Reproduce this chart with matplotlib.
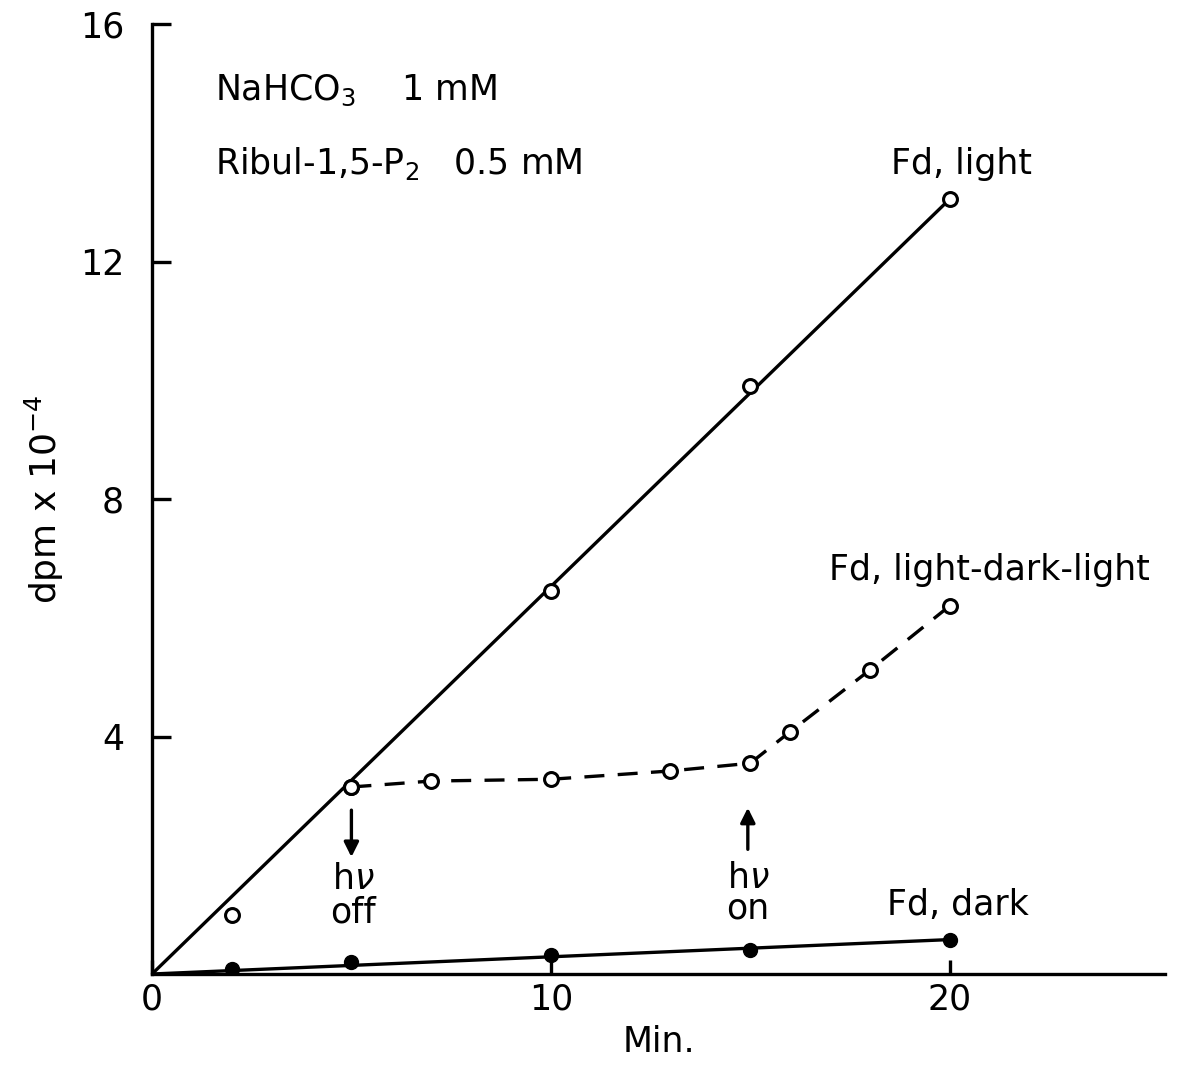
# Zeitverlauf der CO2-Fixierung (dpm) mit Ferredoxin: hell, dunkel, hell-dunkel-hell
import numpy as np
import matplotlib.pyplot as plt

# Daten (Minuten, dpm x 10^-4)
t_licht = [2, 5, 10, 15, 20]
dpm_licht = [1.0, 3.15, 6.45, 9.9, 13.05]

t_wechsel = [5, 7, 10, 13, 15, 16, 18, 20]
dpm_wechsel = [3.15, 3.25, 3.28, 3.42, 3.55, 4.08, 5.12, 6.2]

t_dunkel = [2, 5, 10, 15, 20]
dpm_dunkel = [0.08, 0.2, 0.32, 0.4, 0.58]

# Ausgleichsgeraden (Anfang, Ende)
t_fit = [0, 20]
fit_licht = [0, 13.05]
fit_dunkel = [0, 0.58]

xticks = [0, 10, 20]
yticks = [4, 8, 12, 16]

plt.rcParams['font.family'] = 'DejaVu Sans'
fig = plt.figure(figsize=(11.82, 10.68), dpi=100)
achsen = fig.add_axes([0.1286, 0.088, 0.857, 0.8895])

# Geraden und Messpunkte
achsen.plot(t_fit, fit_licht, 'k-', lw=2.4)
achsen.plot(t_licht, dpm_licht, 'o', ms=10, mfc='white', mec='k', mew=2.2)
achsen.plot(t_wechsel, dpm_wechsel, 'k--', lw=2.4, dashes=(6, 4),
            marker='o', ms=10, mfc='white', mec='k', mew=2.2)
achsen.plot(t_fit, fit_dunkel, 'k-', lw=2.4)
achsen.plot(t_dunkel, dpm_dunkel, 'o', ms=10, mfc='k', mec='k')

# Achsen wie im Original: nur links und unten
achsen.spines['top'].set_color('none')
achsen.spines['right'].set_color('none')
achsen.spines['left'].set_linewidth(2.4)
achsen.spines['bottom'].set_linewidth(2.4)
achsen.set_xlim(0, 25.4)
achsen.set_ylim(0, 16)
achsen.set_xticks(xticks)
achsen.set_yticks(yticks)
achsen.tick_params(axis='both', direction='in', width=2.4, labelsize=25)
achsen.tick_params(axis='y', length=14, pad=20)
achsen.tick_params(axis='x', length=10, pad=6)
achsen.set_xticklabels(['0', '10', '20'])

achsen.set_xlabel('Min.', fontsize=25, labelpad=6)
achsen.set_ylabel('dpm x 10$^{-4}$', fontsize=26, labelpad=10)

# Beschriftungen im Diagramm
schrift = 25
achsen.text(1.58, 14.88, 'NaHCO$_3$    1 mM', fontsize=schrift, va='center')
achsen.text(1.58, 13.65, 'Ribul-1,5-P$_2$   0.5 mM', fontsize=schrift, va='center')
achsen.text(20.3, 13.65, 'Fd, light', fontsize=schrift, ha='center', va='center')
achsen.text(21.0, 6.8, 'Fd, light-dark-light', fontsize=schrift, ha='center', va='center')
achsen.text(20.2, 1.16, 'Fd, dark', fontsize=schrift, ha='center', va='center')

# Licht aus / Licht an
pfeil = dict(arrowstyle='-|>', lw=2.4, color='k', mutation_scale=22,
             shrinkA=0, shrinkB=0)
achsen.annotate('', xy=(5, 1.97), xytext=(5, 2.76), arrowprops=pfeil)
achsen.text(5.05, 1.6, 'h$\\nu$', fontsize=schrift, ha='center', va='center')
achsen.text(5.05, 1.03, 'off', fontsize=schrift, ha='center', va='center')
achsen.annotate('', xy=(14.94, 2.8), xytext=(14.94, 2.1), arrowprops=pfeil)
achsen.text(14.94, 1.62, 'h$\\nu$', fontsize=schrift, ha='center', va='center')
achsen.text(14.94, 1.1, 'on', fontsize=schrift, ha='center', va='center')

plt.savefig('out.png', dpi=100)
